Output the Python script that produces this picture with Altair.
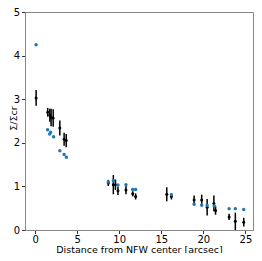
import altair as alt
import pandas as pd

# black points with error bars
bx = [0.12, 1.5, 1.75, 1.9, 2.15, 2.94, 3.45, 3.7, 8.7, 9.3, 9.55, 9.85, 10.8, 11.6, 11.95,
      15.65, 16.2, 18.9, 19.8, 20.45, 21.25, 21.45, 23.06, 23.8, 24.8]
by = [3.03, 2.70, 2.63, 2.58, 2.57, 2.34, 2.08, 2.05, 1.08, 1.04, 1.04, 0.90, 0.92, 0.83, 0.77,
      0.82, 0.77, 0.69, 0.69, 0.52, 0.61, 0.45, 0.30, 0.20, 0.18]
berr = [0.18, 0.10, 0.15, 0.20, 0.20, 0.17, 0.15, 0.15, 0.07, 0.22, 0.12, 0.10, 0.10, 0.06, 0.07,
        0.16, 0.07, 0.10, 0.12, 0.19, 0.18, 0.10, 0.07, 0.20, 0.10]

# blue model points
ux = [0.12, 1.49, 1.73, 1.85, 2.2, 2.94, 3.45, 3.72, 8.7, 9.3, 9.85, 10.8, 11.6, 11.95,
      16.2, 18.9, 19.8, 20.45, 21.3, 23.06, 23.8, 24.8]
uy = [4.25, 2.30, 2.20, 2.24, 2.14, 1.82, 1.73, 1.67, 1.10, 1.13, 1.03, 1.04, 0.93, 0.93,
      0.81, 0.59, 0.57, 0.57, 0.55, 0.49, 0.49, 0.47]

xticks = [0, 5, 10, 15, 20, 25]
yticks = [0, 1, 2, 3, 4, 5]

black = pd.DataFrame({"x": bx, "y": by,
                      "lo": [y - e for y, e in zip(by, berr)],
                      "hi": [y + e for y, e in zip(by, berr)]})
blue = pd.DataFrame({"x": ux, "y": uy})

xs = alt.Scale(domain=[-1.2, 25.9], nice=False, zero=False)
ys = alt.Scale(domain=[0, 5], nice=False)

X = alt.X("x:Q", scale=xs, axis=alt.Axis(values=xticks, title="Distance from NFW center [arcsec]",
                                         titleY=22, titleBaseline="alphabetic", labelPadding=1))
Y = alt.Y("y:Q", scale=ys, axis=alt.Axis(values=yticks, title="Σ/Σcr",
                                         titleX=-9, titleY=106, titleBaseline="alphabetic"))

bars = alt.Chart(black).mark_rule(color="black", strokeWidth=1.5).encode(
    x=X, y=alt.Y("lo:Q", scale=ys), y2="hi:Q")
bpts = alt.Chart(black).mark_circle(color="black", size=9, opacity=1).encode(x=X, y=Y)
upts = alt.Chart(blue).mark_circle(color="#1f77b4", size=12, opacity=1).encode(x=X, y=Y)

chart = alt.layer(bars, bpts, upts).properties(
    width=228, height=218,
    autosize=alt.AutoSizeParams(type="none"),
    padding={"left": 17, "top": 4, "right": 1, "bottom": 23},
).configure_axis(
    labelFont="DejaVu Sans", labelFontSize=10, labelColor="black",
    titleFont="DejaVu Sans", titleFontSize=9.5, titleFontWeight="normal", titleColor="black",
    tickColor="#333", tickSize=3.5, domainColor="#888", grid=False, labelPadding=2,
).configure_view(stroke="#888", strokeWidth=1)

chart.save("out.html", embed_options={"renderer": "svg", "actions": False})
